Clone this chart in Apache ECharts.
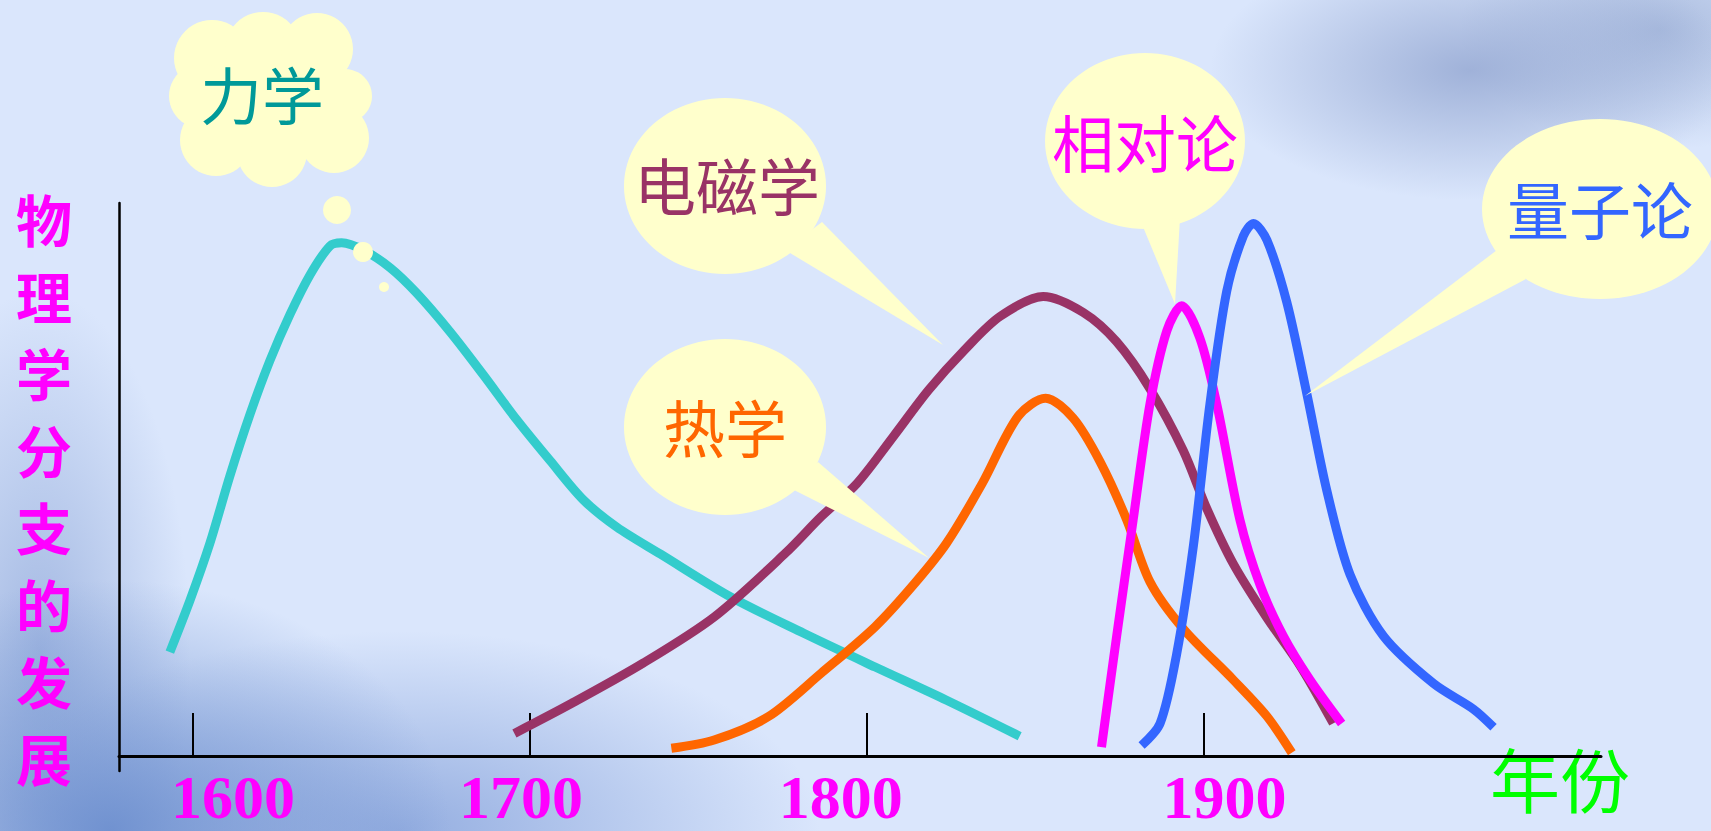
<!DOCTYPE html>
<html>
<head>
<meta charset="utf-8">
<script src="https://cdn.jsdelivr.net/npm/echarts@6/dist/echarts.min.js"></script>
<style>
html,body{margin:0;padding:0;width:1711px;height:831px;overflow:hidden;}
body{background:
 radial-gradient(ellipse 340px 250px at 110px 830px, rgba(105,140,205,0.9), rgba(105,140,205,0)),
 radial-gradient(ellipse 420px 200px at 400px 831px, rgba(125,155,215,0.75), rgba(125,155,215,0)),
 radial-gradient(ellipse 150px 360px at 40px 650px, rgba(140,165,215,0.7), rgba(140,165,215,0)),
 radial-gradient(ellipse 260px 130px at 1470px 70px, rgba(140,160,205,0.75), rgba(140,160,205,0)),
 radial-gradient(ellipse 200px 120px at 1660px 30px, rgba(150,170,210,0.7), rgba(150,170,210,0)),
 #dae6fc;}
#chart{width:1711px;height:831px;}
</style>
</head>
<body>
<div id="chart"></div>
<script>
// ---- data ----
const tickYears = [1600, 1700, 1800, 1900];
const xAxisName = '年份';
const yAxisNameChars = ['物', '理', '学', '分', '支', '的', '发', '展'];
const seriesNames = ['力学', '电磁学', '热学', '相对论', '量子论'];

const mechanics = [[1593.1,18.8],[1599.1,28.2],[1605.0,38.5],[1611.0,50.8],[1616.9,61.8],[1622.8,71.5],[1628.8,79.9],[1634.7,87.0],[1640.6,92.2],[1644.1,92.8],[1650.5,91.5],[1658.5,88.3],[1666.4,83.7],[1676.3,76.7],[1686.2,68.9],[1696.1,60.8],[1706.0,53.4],[1715.9,46.3],[1725.8,41.4],[1738.8,36.5],[1759.5,28.8],[1781.3,22.2],[1802.5,16.1],[1823.7,10.1],[1845.4,3.6]];
const electromagnetism = [[1695.4,4.1],[1712.3,9.5],[1733.6,16.8],[1754.8,25.2],[1775.9,36.7],[1786.5,43.3],[1797.1,49.3],[1807.8,57.7],[1818.4,66.2],[1829.0,73.4],[1839.6,79.5],[1852.4,83.1],[1864.3,80.2],[1874.2,74.9],[1884.1,66.4],[1894.0,55.2],[1901.0,44.7],[1908.8,34.8],[1918.8,25.0],[1928.6,16.4],[1938.5,5.9]];
const thermodynamics = [[1742.0,1.4],[1754.7,2.9],[1770.7,7.1],[1786.5,15.0],[1802.5,23.4],[1814.2,31.2],[1823.7,38.5],[1834.3,49.3],[1844.9,61.4],[1853.1,64.7],[1861.3,61.1],[1869.3,53.2],[1877.2,42.7],[1884.1,31.5],[1894.0,23.0],[1908.8,13.8],[1918.8,7.2],[1926.2,0.6]];
const relativity = [[1869.7,1.6],[1874.2,21.7],[1879.1,42.7],[1884.1,63.7],[1889.1,76.9],[1893.5,81.4],[1898.9,75.6],[1903.9,63.7],[1910.8,42.7],[1916.8,30.9],[1923.7,21.7],[1931.6,13.8],[1941.0,5.9]];
const quantum = [[1881.6,1.9],[1887.1,5.9],[1892.0,18.4],[1897.0,38.1],[1901.9,63.7],[1906.9,84.1],[1911.8,94.0],[1914.8,96.3],[1918.8,93.3],[1924.7,82.1],[1930.6,65.7],[1936.6,48.0],[1943.5,32.8],[1953.4,21.7],[1968.3,13.1],[1980.1,8.5],[1986.1,5.2]];

// ---- styles ----
const seriesData = [mechanics, electromagnetism, thermodynamics, relativity, quantum];
const seriesColors = ['#33cccc', '#993366', '#ff6600', '#ff00ff', '#3366ff'];
const textColors = ['#009999', '#993366', '#ff6600', '#ff00ff', '#3366ff'];
const cjk = '"Noto Sans CJK SC", sans-serif';
const bubble = '#ffffcc';

// horizontal offset of each tick label (px) relative to its tick
const labelShift = {1600: 40, 1700: -9, 1800: -26, 1900: 21};
const rich = {};
tickYears.forEach(function (y) {
  const s = labelShift[y];
  rich['y' + y] = {
    fontFamily: '"Liberation Serif", "Times New Roman", serif',
    fontWeight: 'bold', fontSize: 62, lineHeight: 48, color: '#ff00ff',
    padding: s >= 0 ? [0, 0, 0, 2 * s] : [0, -2 * s, 0, 0]
  };
});

function ellipse(cx, cy, rx, ry) {
  return {type: 'circle', x: cx, y: cy, scaleX: rx / ry, shape: {cx: 0, cy: 0, r: ry}, style: {fill: bubble}, z: 100, silent: true};
}
function circ(cx, cy, r) {
  return {type: 'circle', shape: {cx: cx, cy: cy, r: r}, style: {fill: bubble}, z: 100, silent: true};
}
function tail(pts) {
  return {type: 'polygon', shape: {points: pts}, style: {fill: bubble}, z: 100, silent: true};
}
function label(text, x, y, color) {
  return {type: 'text', x: x, y: y, z: 101, silent: true,
    style: {text: text, fill: color, fontSize: 62, fontFamily: cjk, align: 'center', verticalAlign: 'middle'}};
}

const graphic = [
  // 力学 thought cloud
  ellipse(270, 100, 78, 62),
  circ(212, 58, 38), circ(263, 50, 38), circ(317, 49, 36), circ(345, 96, 27),
  circ(334, 138, 35), circ(272, 152, 35), circ(216, 140, 36), circ(201, 96, 32),
  circ(337, 210, 14), circ(363, 252, 10), circ(384, 287, 5),
  // 电磁学
  ellipse(725, 186, 101, 88), tail([[785, 250], [822, 222], [943, 345]]),
  // 热学
  ellipse(725, 427, 101, 88), tail([[790, 488], [818, 462], [929, 558]]),
  // 相对论
  ellipse(1145, 141, 100, 88), tail([[1141, 222], [1180, 218], [1175, 304]]),
  // 量子论
  ellipse(1600, 209, 118, 90), tail([[1497, 250], [1526, 279], [1305, 396]]),
  label(seriesNames[0], 262, 93, textColors[0]),
  label(seriesNames[1], 727, 184, textColors[1]),
  label(seriesNames[2], 725, 426, textColors[2]),
  label(seriesNames[3], 1145, 141, textColors[3]),
  label(seriesNames[4], 1600, 208, textColors[4])
];

const chart = echarts.init(document.getElementById('chart'), null, {renderer: 'svg'});
chart.setOption({
  backgroundColor: 'transparent',
  animation: false,
  grid: {left: 119, right: 110, top: 203, bottom: 60, containLabel: false, outerBoundsMode: 'none'},
  xAxis: {
    type: 'value', min: 1578, max: 2018,
    name: xAxisName, nameLocation: 'end', nameGap: 29,
    nameTextStyle: {color: '#00ff00', fontSize: 70, lineHeight: 42, fontFamily: cjk, align: 'right', verticalAlign: 'top'},
    axisLine: {show: true, onZero: true, lineStyle: {color: '#000', width: 3}},
    axisTick: {show: true, inside: true, length: 43, customValues: tickYears, lineStyle: {color: '#000', width: 2}},
    axisLabel: {show: true, customValues: tickYears, margin: 2, formatter: function (v) { return '{y' + v + '|' + v + '}'; }, rich: rich},
    splitLine: {show: false}
  },
  yAxis: {
    type: 'value', min: -2.7, max: 100,
    name: yAxisNameChars.join('\n'), nameLocation: 'middle', nameRotate: 0, nameGap: 75,
    nameTextStyle: {color: '#ff00ff', fontSize: 56, fontWeight: 'bold', lineHeight: 77, fontFamily: cjk, align: 'center', verticalAlign: 'middle', padding: [0, 0, 67, 0]},
    axisLine: {show: true, onZero: false, lineStyle: {color: '#000', width: 2.5}},
    axisTick: {show: false}, axisLabel: {show: false}, splitLine: {show: false}
  },
  series: seriesData.map(function (d, i) {
    return {type: 'line', name: seriesNames[i], data: d, smooth: 0.3, symbol: 'none', showSymbol: false,
      lineStyle: {color: seriesColors[i], width: 9}, z: 2 + i, silent: true};
  }),
  graphic: graphic
});
</script>
</body>
</html>
